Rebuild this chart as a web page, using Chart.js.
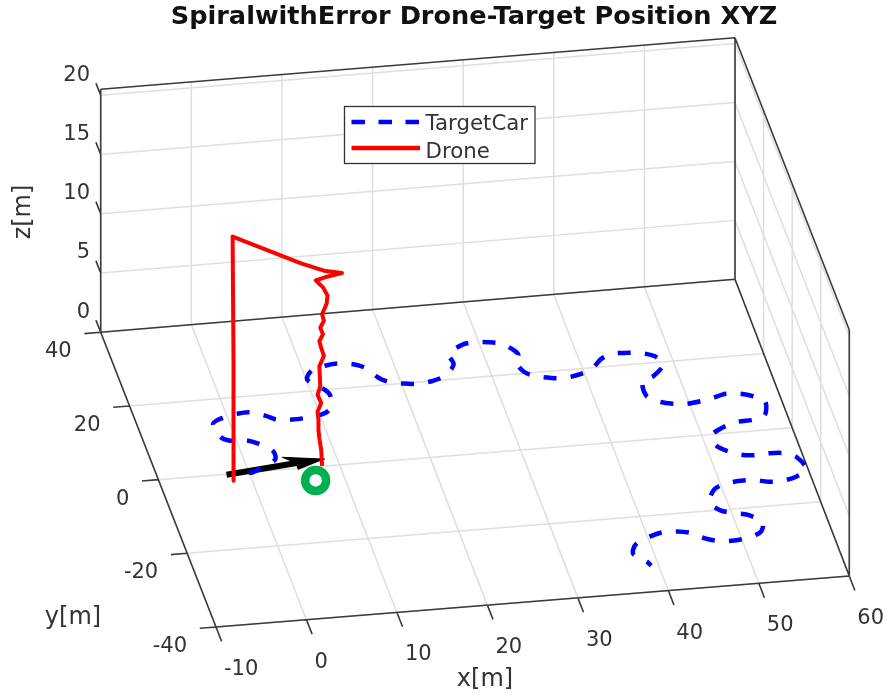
<!DOCTYPE html>
<html>
<head>
<meta charset="utf-8">
<title>SpiralwithError Drone-Target Position XYZ</title>
<script src="https://cdn.jsdelivr.net/npm/chart.js@4"></script>
<style>
  html, body { margin: 0; padding: 0; background: #fff; }
  canvas { display: block; }
</style>
</head>
<body>
<canvas id="chart" width="893" height="699"></canvas>
<script>
const chartTitle = 'SpiralwithError Drone-Target Position XYZ';
const xTicks = [-10, 0, 10, 20, 30, 40, 50, 60];
const yTicks = [-40, -20, 0, 20, 40];
const zTicks = [0, 5, 10, 15, 20];
const zTop = 20.5;

// values, in metres
const targetX = [0, 0.3, 3.3, 3.5, 2.2, 1.1, -0.7, -1.6, -1.8, -0.6, 1.2, 2.6, 4.1, 5.2, 6.8, 8.2, 10.2, 11.4, 11.9, 11.6, 10.1, 11.0, 12.8, 14.2, 15.8, 16.9, 17.8, 18.8, 20.3, 21.7, 23.5, 25.1, 26.4, 26.3, 28.1, 29.5, 31.1, 32.4, 33.5, 33.7, 33.1, 33.6, 34.7, 36.3, 37.7, 39.4, 40.9, 42.4, 43.8, 45.5, 46.8, 48.2, 48.9, 47.3, 45.9, 45.7, 46.7, 48.2, 49.6, 51.3, 52.7, 54.3, 55.8, 57.2, 58.2, 57.6, 56.2, 54.5, 53.0, 51.2, 51.1, 51.1, 52.3, 53.6, 55.1, 56.5, 58.1, 59.3, 59.8, 58.4, 56.6, 55.2, 53.7, 52.3, 50.6, 49.1, 48.1, 48.9, 50.3, 51.6, 52.9, 52.7, 52.1, 50.3, 48.8, 47.3, 46.0, 44.8, 43.4, 41.8, 40.3, 38.6, 37.9, 37.8, 38.9, 39.2];
const targetY = [0, -0.2, 2.7, 4.9, 7.3, 8.4, 8.7, 10.0, 13.5, 14.8, 15.6, 15.7, 14.5, 13.2, 12.9, 13.0, 13.6, 15.0, 18.4, 19.9, 23.1, 25.4, 26.4, 26.6, 26.0, 24.7, 22.0, 20.6, 19.9, 19.6, 20.0, 21.2, 23.9, 26.7, 28.8, 29.2, 28.9, 28.2, 26.1, 24.9, 23.5, 20.4, 19.0, 18.2, 17.9, 18.5, 19.5, 22.1, 23.2, 23.1, 22.8, 21.7, 19.5, 16.5, 15.3, 11.5, 9.8, 8.8, 8.5, 8.9, 9.5, 10.3, 10.0, 9.0, 7.5, 3.9, 2.9, 2.7, 1.9, 0.0, -1.3, -3.0, -5.0, -6.1, -6.4, -6.2, -6.5, -7.9, -11.2, -12.9, -13.7, -13.6, -12.9, -12.8, -13.2, -14.5, -17.7, -20.1, -21.1, -21.8, -23.9, -25.6, -26.9, -28.0, -28.3, -28.0, -27.0, -25.4, -24.7, -24.6, -25.4, -26.9, -28.6, -29.9, -32.0, -33.1];
const droneX = [8.1, 8.0, 7.8, 7.7, 7.7, 7.6, 8.0, 7.6, 7.9, 7.8, 8.3, 8.0, 7.8, 8.2, 7.9, 8.3, 8.1, 8.6, 8.7, 8.2, 7.4, 8.5, 10.3, 8.3, 5.7, -2.1, -2.0, -2.0];
const droneY = [0.1, 0.1, 0.1, 0.1, 0.1, 0.1, 0.1, 0.1, 0.1, 0.1, 0.1, 0.1, 0.1, 0.1, 0.1, 0.1, 0.1, 0.1, 0.1, 0.1, 0.1, 0.1, 0.1, 0.1, -0.4, -1.9, -1.9, -1.9];
const droneZ = [0, 1.35, 2.34, 3.04, 3.88, 4.58, 5.29, 5.99, 6.69, 8.37, 9.22, 9.92, 10.48, 11.05, 11.61, 12.17, 12.73, 13.58, 14.27, 14.98, 15.62, 15.83, 16.05, 16.38, 17.3, 20.5, 10, 0];
const arrowShaftX = [-2.5, 6.5];
const arrowShaftY = [-0.2, 1.6];
const arrowHeadX = [8.7, 4.2, 5.4, 5.4];
const arrowHeadY = [1.8, 3.2, 1.5, -0.4];
const markerX = [6.8];
const markerY = [-3.6];

// the view of the axes box: pixel position of its corners, floor and roof
const floorCorners = { fl: [216, 627], fr: [849.3, 576], bl: [100.7, 332.3], br: [735, 279.3] };
const roofCorners = { fl: [216, 381.6], fr: [849.3, 330], bl: [100.7, 89.3], br: [735, 37.7] };

const bilinear = (c, u, v, k) =>
    (1 - u) * (1 - v) * c.fl[k] + u * (1 - v) * c.fr[k] + (1 - u) * v * c.bl[k] + u * v * c.br[k];

function project(x, y, z) {
    const u = (x + 10) / 70, v = (y + 40) / 80, t = z / zTop;
    return {
        x: bilinear(floorCorners, u, v, 0) * (1 - t) + bilinear(roofCorners, u, v, 0) * t,
        y: bilinear(floorCorners, u, v, 1) * (1 - t) + bilinear(roofCorners, u, v, 1) * t
    };
}

// turns [[x,y,z],[x,y,z]] segments into one broken line
function segments(list) {
    const out = [];
    list.forEach(([a, b]) => {
        out.push(project(...a), project(...b), { x: NaN, y: NaN });
    });
    return out;
}

const gridSegs = [];
xTicks.forEach(x => {
    gridSegs.push([[x, -40, 0], [x, 40, 0]]);
    gridSegs.push([[x, 40, 0], [x, 40, zTop]]);
});
yTicks.forEach(y => {
    gridSegs.push([[-10, y, 0], [60, y, 0]]);
    gridSegs.push([[60, y, 0], [60, y, zTop]]);
});
zTicks.forEach(z => {
    gridSegs.push([[-10, 40, z], [60, 40, z]]);
    gridSegs.push([[60, 40, z], [60, -40, z]]);
});

const frameSegs = [
    [[-10, 40, 0], [-10, 40, zTop]],
    [[-10, 40, zTop], [60, 40, zTop]],
    [[60, 40, 0], [60, 40, zTop]],
    [[60, 40, zTop], [60, -40, zTop]],
    [[60, -40, 0], [60, -40, zTop]],
    [[-10, 40, 0], [60, 40, 0]],
    [[60, 40, 0], [60, -40, 0]],
    [[-10, 40, 0], [-10, -40, 0]],
    [[-10, -40, 0], [60, -40, 0]]
];
xTicks.forEach(x => frameSegs.push([[x, -40, 0], [x, -43.9, 0]]));
yTicks.forEach(y => frameSegs.push([[-10, y, 0], [-11.8, y, 0]]));
zTicks.forEach(z => frameSegs.push([[-10, 40, z], [-10, 43.3, z]]));

const lineBase = { showLine: true, pointRadius: 0, spanGaps: false, fill: false };

const axisTextPlugin = {
    id: 'axisTextPlugin',
    afterDraw(chart) {
        const { ctx, scales } = chart;
        const at = (p) => ({ x: scales.x.getPixelForValue(p.x), y: scales.y.getPixelForValue(p.y) });
        ctx.save();
        ctx.fillStyle = '#333';
        ctx.textBaseline = 'middle';
        ctx.font = '21px "DejaVu Sans"';

        ctx.textAlign = 'left';
        xTicks.forEach(x => {
            const p = at(project(x, -40, 0));
            ctx.fillText(String(x), p.x + 8, p.y + 42.5);
        });
        ctx.textAlign = 'right';
        yTicks.forEach(y => {
            const p = at(project(-10, y, 0));
            ctx.fillText(String(y), p.x - 29, p.y + 19.5);
        });
        zTicks.forEach(z => {
            const p = at(project(-10, 40, z));
            ctx.fillText(String(z), p.x - 10.7, p.y - 20);
        });

        ctx.textAlign = 'center';
        ctx.font = '24px "DejaVu Sans"';
        ctx.fillText('x[m]', 485, 680);
        ctx.fillText('y[m]', 73, 618);
        ctx.translate(24, 212);
        ctx.rotate(-Math.PI / 2);
        ctx.fillText('z[m]', 0, 0);
        ctx.restore();

        // legend box
        ctx.save();
        ctx.fillStyle = '#fff';
        ctx.strokeStyle = '#333';
        ctx.lineWidth = 1.3;
        ctx.fillRect(344.5, 106.5, 190.5, 57);
        ctx.strokeRect(344.5, 106.5, 190.5, 57);
        ctx.lineWidth = 4.5;
        ctx.strokeStyle = '#0000ff';
        ctx.setLineDash([13.5, 13.5]);
        ctx.beginPath(); ctx.moveTo(351.5, 122); ctx.lineTo(420, 122); ctx.stroke();
        ctx.setLineDash([]);
        ctx.strokeStyle = '#ff0000';
        ctx.beginPath(); ctx.moveTo(351.5, 148); ctx.lineTo(420, 148); ctx.stroke();
        ctx.fillStyle = '#333';
        ctx.font = '21.3px "DejaVu Sans"';
        ctx.textAlign = 'left';
        ctx.textBaseline = 'middle';
        ctx.fillText('TargetCar', 425.5, 124);
        ctx.fillText('Drone', 425.5, 152);
        ctx.restore();
    }
};

new Chart(document.getElementById('chart'), {
    type: 'scatter',
    data: {
        datasets: [
            {
                label: 'Start',
                data: markerX.map((x, i) => project(x, markerY[i], 0)),
                pointRadius: 10.5, pointBorderWidth: 8.5,
                pointBorderColor: '#00b050', pointBackgroundColor: '#fff', showLine: false
            },
            {
                ...lineBase, label: 'Drone',
                data: droneX.map((x, i) => project(x, droneY[i], droneZ[i])),
                borderColor: '#ff0000', borderWidth: 4, borderJoinStyle: 'round'
            },
            {
                ...lineBase, label: 'TargetCar',
                data: targetX.map((x, i) => project(x, targetY[i], 0)),
                borderColor: '#0000ff', borderWidth: 4.5, borderDash: [13, 14.2], tension: 0.3
            },
            {
                ...lineBase, label: 'Heading',
                data: arrowShaftX.map((x, i) => project(x, arrowShaftY[i], 0)),
                borderColor: '#000', borderWidth: 6
            },
            {
                ...lineBase, label: 'Heading tip',
                data: arrowHeadX.map((x, i) => project(x, arrowHeadY[i], 0)),
                borderColor: '#000', borderWidth: 1, backgroundColor: '#000', fill: 'shape'
            },
            {
                ...lineBase, label: 'Frame',
                data: segments(frameSegs),
                borderColor: '#3a3a3a', borderWidth: 1.6
            },
            {
                ...lineBase, label: 'Grid',
                data: segments(gridSegs),
                borderColor: '#dedede', borderWidth: 1.5
            }
        ]
    },
    options: {
        responsive: false,
        animation: false,
        layout: { padding: { left: 55 }, autoPadding: false },
        plugins: {
            legend: { display: false },
            tooltip: { enabled: false },
            title: {
                display: true, text: chartTitle, color: '#111',
                font: { family: '"DejaVu Sans"', size: 25.6, weight: 'bold', lineHeight: 1 },
                padding: { top: 5, bottom: 1.4 }
            }
        },
        scales: {
            x: { type: 'linear', display: false, min: 55, max: 893 },
            y: { type: 'linear', display: false, reverse: true, min: 32, max: 699 }
        }
    },
    plugins: [axisTextPlugin]
});
</script>
</body>
</html>
